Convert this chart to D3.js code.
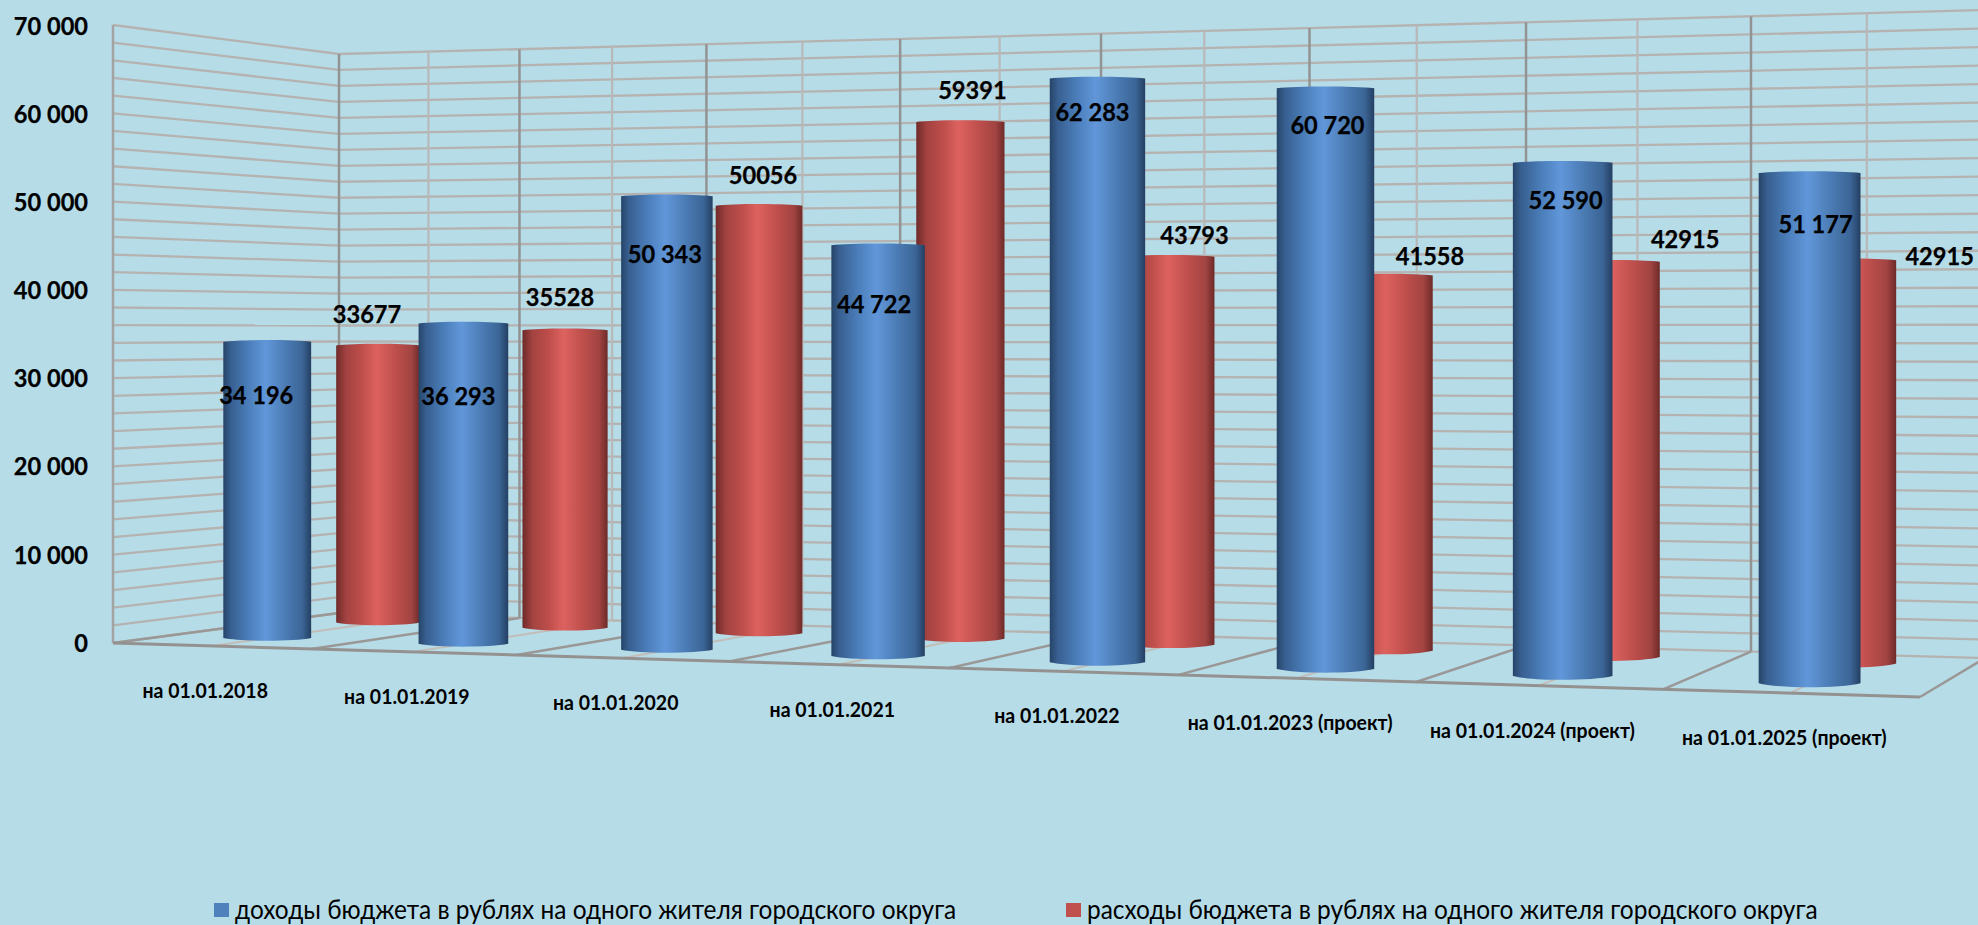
<!DOCTYPE html>
<html><head><meta charset="utf-8">
<script src="https://cdn.jsdelivr.net/npm/d3@7"></script>
<style>html,body{margin:0;padding:0;background:#b6dce8;overflow:hidden}text{font-family:Lato,"Open Sans",sans-serif;fill:#000}</style>
</head><body><svg id="c" width="1978" height="925"></svg>
<script>
const categories=["на 01.01.2018","на 01.01.2019","на 01.01.2020","на 01.01.2021","на 01.01.2022","на 01.01.2023 (проект)","на 01.01.2024 (проект)","на 01.01.2025 (проект)"];
const income=[34196,36293,50343,44722,62283,60720,52590,51177];
const expense=[33677,35528,50056,59391,43793,41558,42915,42915];
const seriesNames=["доходы бюджета в рублях на одного жителя городского округа","расходы бюджета в рублях на одного жителя городского округа"];
const yTicks=[0,10000,20000,30000,40000,50000,60000,70000];

// hand-placed label offsets of the original (relative to bar top centre)
const incomeNudge=[[-11,53],[-5,73],[-2,58],[-4,59],[-5,33],[2,37],[3,37],[6,51]];
const expenseNudge=[[-11,-31],[-5,-33],[4,-31],[12,-32],[25,-22],[43,-19],[72,-23],[91,-4]];

const svg=d3.select("#c");
// perspective box
const s=1.16, persp=t=>t/(s-(s-1)*t);
const xFront=d3.scaleLinear([0,1],[113,1920]), xBack=d3.scaleLinear([0,1],[339,1985]);
const yFront=d3.scaleLinear([0,1],[643,697]), yBack=d3.scaleLinear([0,1],[613,658]);
const hFront=d3.scaleLinear([0,1],[618,727]), hBack=d3.scaleLinear([0,1],[559,648]);
const yMax=70000;
const lerp=(a,b,d)=>a+(b-a)*d;
function pt(t,d,v){const p=persp(t);
  const h=lerp(hFront(p),hBack(p),d);
  return [lerp(xFront(p),xBack(p),d), lerp(yFront(p),yBack(p),d)-h*v/yMax];}
const band=d3.scaleBand(categories,[0,1]);
const tC=c=>band(c)+band.bandwidth()/2;
const line=d3.line();

const defs=svg.append("defs");
const grads={income:[["0",  "#264468"],["0.08","#375e8f"],["0.28","#4a7db9"],["0.48","#6197da"],["0.72","#4a7ab2"],["0.9","#3b6596"],["1","#243f62"]],
             expense:[["0","#6f2a29"],["0.12","#a34341"],["0.3","#bd4d4a"],["0.48","#dd625f"],["0.72","#bd4e4b"],["0.9","#a14442"],["1","#6e2a28"]]};
Object.entries(grads).forEach(([k,st])=>{
  defs.append("linearGradient").attr("id","g-"+k).selectAll("stop").data(st).join("stop")
    .attr("offset",d=>d[0]).attr("stop-color",d=>d[1]);
});

// walls
const walls=svg.append("g").attr("fill","none");
const gridVals=d3.range(0,yMax+1,2000);
const gridCol="#b5b3b1";
walls.selectAll(".lw").data(gridVals).join("path").attr("stroke",gridCol).attr("stroke-width",2.3)
  .attr("d",v=>line([pt(0,0,v),pt(0,1,v)]));
walls.selectAll(".bw").data(gridVals).join("path").attr("stroke",gridCol).attr("stroke-width",2.3)
  .attr("d",v=>line([pt(0,1,v),pt(1,1,v)]));
const divs=d3.range(0,9).map(i=>i/8), mids=d3.range(0,8).map(i=>(i+.5)/8);
walls.append("g").selectAll("path").data(mids).join("path").attr("stroke","#b8b8b8").attr("stroke-width",2.2)
  .attr("d",t=>line([pt(t,1,0),pt(t,1,yMax)]));
walls.append("g").selectAll("path").data(mids).join("path").attr("stroke","#c2bdb8").attr("stroke-width",2)
  .attr("d",t=>line([pt(t,0,0),pt(t,1,0)]));
walls.append("g").selectAll("path").data(divs).join("path").attr("stroke","#939393").attr("stroke-width",2.5)
  .attr("d",t=>line([pt(t,1,0),pt(t,1,yMax)]));
walls.append("g").selectAll("path").data(divs).join("path").attr("stroke","#9a9896").attr("stroke-width",2.5)
  .attr("d",t=>line([pt(t,0,0),pt(t,1,0)]));
walls.append("path").attr("stroke","#a3a3a3").attr("stroke-width",2.5).attr("d",line([pt(0,0,0),pt(0,0,yMax)]));
walls.append("path").attr("stroke","#949290").attr("stroke-width",3).attr("d",line([pt(0,0,0),pt(1,0,0)]));

// cylinders
const depth={income:.26,expense:.77};
const widthScale={income:d3.scaleLinear([0,1],[87,103]),expense:d3.scaleLinear([0,1],[83,96])};
function cyl(key,c,v){
  const t=tC(c),p=persp(t),d=depth[key],w=widthScale[key](p);
  const [cx0,y0]=pt(t,d,0),[,y1t]=pt(t,d,v);
  const cx=cx0-9*p*(1-p), y1=y1t+1;
  const ryB=2.6+1.6*p, ryT=1.8;
  const l=cx-w/2,r=cx+w/2;
  const path=d3.path();
  path.moveTo(l,y1);
  path.bezierCurveTo(l+w*.2,y1-ryT*1.3,r-w*.2,y1-ryT*1.3,r,y1);
  path.lineTo(r,y0);
  path.bezierCurveTo(r-w*.2,y0+ryB*1.33,l+w*.2,y0+ryB*1.33,l,y0);
  path.closePath();
  return {cx,y1,d:path.toString(),key,v};
}
const expBars=categories.map((c,i)=>cyl("expense",c,expense[i]));
const incBars=categories.map((c,i)=>cyl("income",c,income[i]));
svg.append("g").selectAll("path").data(expBars).join("path").attr("fill","url(#g-expense)").attr("d",b=>b.d);
svg.append("g").selectAll("path").data(incBars).join("path").attr("fill","url(#g-income)").attr("d",b=>b.d);

// squeeze Lato to the narrower proportions of the original face
function squeeze(sel,k){sel.each(function(){this.setAttribute("lengthAdjust","spacingAndGlyphs");this.setAttribute("textLength",this.getComputedTextLength()*k);});}

// value labels
const LF=d3.formatLocale({decimal:",",thousands:" ",grouping:[3],currency:["",""]});
const fmtSp=LF.format(",d");
const valFont=25.5,valK=0.925;
const valG=svg.append("g").attr("font-size",valFont).attr("font-weight",700).attr("text-anchor","middle").attr("stroke","#000").attr("stroke-width",.25);
valG.selectAll(".e").data(expBars).join("text")
  .attr("x",(b,i)=>b.cx+expenseNudge[i][0]).attr("y",(b,i)=>b.y1+expenseNudge[i][1]).attr("dy","0.35em").text(b=>b.v).call(squeeze,valK);
valG.selectAll(".i").data(incBars).join("text")
  .attr("x",(b,i)=>b.cx+incomeNudge[i][0]).attr("y",(b,i)=>b.y1+incomeNudge[i][1]).attr("dy","0.35em").text(b=>fmtSp(b.v)).call(squeeze,valK);

// y axis
const yAxisScale=d3.scaleLinear([0,yMax],[642,25]);
const ax=svg.append("g").attr("transform","translate(88,1)")
  .call(d3.axisLeft(yAxisScale).tickValues(yTicks).tickSize(0).tickPadding(0).tickFormat(fmtSp));
ax.select(".domain").remove();
ax.attr("font-family",null);
ax.selectAll("text").attr("font-size",valFont).attr("font-weight",700).attr("stroke","#000").attr("stroke-width",.25).call(squeeze,valK);

// category labels
svg.append("g").attr("font-size",20).attr("font-weight",700).attr("text-anchor","middle")
  .selectAll("text").data(categories).join("text")
  .attr("x",c=>xFront(persp(tC(c)))-6).attr("y",c=>yFront(persp(tC(c)))+45).attr("dy","0.35em").text(c=>c).call(squeeze,0.975);

// legend
const legCols=["#4f81bd","#c0504d"];
const legX=d3.scaleOrdinal(seriesNames,[214,1066]);
const lg=svg.append("g").selectAll("g").data(seriesNames).join("g").attr("transform",n=>`translate(${legX(n)},903)`);
lg.append("rect").attr("width",15).attr("height",14).attr("fill",(n,i)=>legCols[i]);
lg.append("text").attr("x",21).attr("y",16).attr("font-size",26).text(n=>n).call(squeeze,0.94);
</script></body></html>
